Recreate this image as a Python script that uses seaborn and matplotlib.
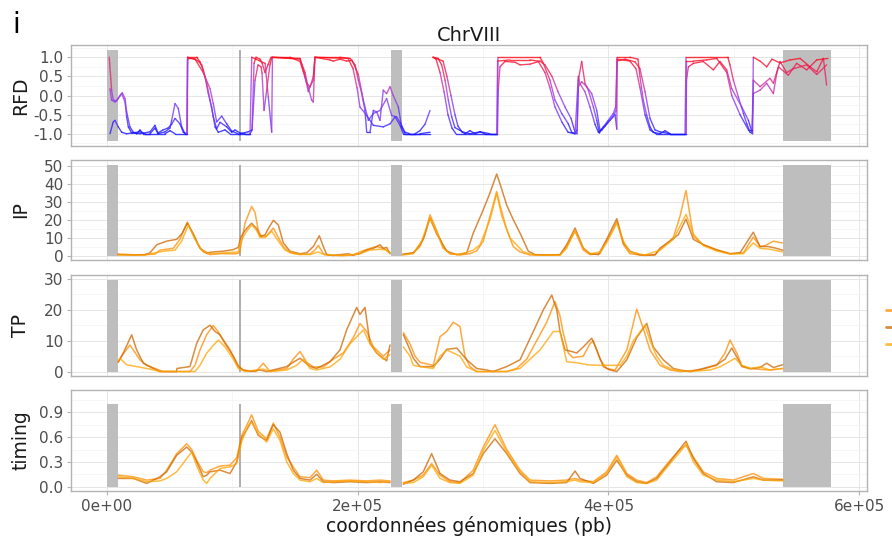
import numpy as np
import pandas as pd
import matplotlib
matplotlib.use("Agg")
import matplotlib.pyplot as plt
import seaborn as sns
from matplotlib.collections import LineCollection
from matplotlib.colors import LinearSegmentedColormap, Normalize
from matplotlib.lines import Line2D

NA = np.nan

# ---------------- text / axes content ----------------
chrom_title = "ChrVIII"
panel_letter = "i"
x_label = "coordonnées génomiques (pb)"
x_ticks = [0, 200000, 400000, 600000]
x_tick_labels = ["0e+00", "2e+05", "4e+05", "6e+05"]
x_minor = [100000, 300000, 500000]

# masked regions and centromere (kb)
mask_start_kb = [0.0, 226.6, 539.3]
mask_end_kb = [8.8, 235.3, 577.6]
centromere_kb = 106.1

samples = ["rep1", "rep2", "rep3"]
sample_colors = ["#FF8C00", "#CD6600", "#FFA500"]

# ---------------- RFD (three tracks, kb / value) ----------------
rfd_a_kb = [1.8, 3.7, 5.0, 7.7, 10.4, 12.2, 14.4, 15.7, 18.3, 21.0, 23.7, 26.3, 29.0, 34.3, 38.3, 40.7, 46.3, 50.3, 51.6, 54.3, 56.9, 59.6, 62.2, 64.1, 64.3, 71.6, 74.2, 76.8, 79.6, 82.2, 84.8, 87.5, 90.2, 95.5, 99.5, 102.1, 106.1, 110.1, 114.1, 115.7, 117.3, 118.9, 122.1, 123.7, 126.1, 128.4, 130.8, 146.0, 154.0, 156.6, 159.3, 162.0, 164.6, 165.9, 185.9, 193.9, 197.9, 200.5, 203.2, 205.8, 207.2, 209.8, 212.5, 215.2, 217.8, 220.4, 223.1, 225.8, 228.4, 232.4, 235.1, 237.7, 245.7, 249.7, 253.7, 257.7, NA, 260.1, 264.1, 267.0, 269.7, 272.3, 275.0, 277.6, 281.6, 285.6, 289.6, 293.6, 297.6, 301.6, 311.1, 311.9, 345.5, 348.1, 353.4, 357.4, 362.8, 368.0, 370.7, 373.4, 375.0, 376.0, 378.7, 381.3, 384.0, 388.0, 390.7, 392.8, 395.9, 399.9, 403.9, 405.8, 406.9, 417.2, 423.6, 425.2, 427.8, 430.6, 433.2, 435.8, 441.2, 445.2, 449.2, 461.1, 461.9, 495.3, 497.0, 499.7, 503.7, 507.7, 510.4, 513.0, 515.1, 515.6, 521.0, 526.3, 530.5, 536.9, 544.9, 552.9, 560.9, 566.2, 571.5, 574.1]
rfd_a = [1.0, 0.14, -0.12, -0.14, 0.0, 0.07, -0.08, -0.43, -0.82, -0.96, -1.0, -0.9, -1.0, -1.0, -0.85, -1.0, -0.95, -0.85, -0.65, -0.21, -0.34, -0.82, -1.0, -1.0, 1.0, 1.0, 0.88, 0.66, 0.31, -0.12, -0.56, -0.87, -0.7, -0.82, -0.96, -0.9, -0.98, -1.0, -1.0, -0.9, 0.84, 1.0, 0.95, 0.85, 0.6, 0.8, 1.0, 1.0, 0.89, 0.62, 0.32, 0.23, 0.4, 1.0, 1.0, 0.97, 0.8, 0.4, 0.05, -0.39, -0.96, -0.96, -0.39, -0.43, -0.65, 0.14, 0.05, 0.23, 0.0, -0.3, -0.82, -1.0, -1.0, -0.92, -0.75, -0.39, NA, 1.0, 0.97, 0.8, 0.4, -0.12, -0.56, -0.84, -0.91, -1.0, -0.92, -1.0, -0.95, -1.0, -1.0, 1.0, 1.0, 0.84, 0.4, -0.12, -0.47, -0.74, -0.96, -1.0, -0.9, 0.4, 0.89, 0.32, 0.14, -0.3, -0.65, -0.98, -0.82, -0.65, -0.47, -0.3, 1.0, 1.0, 0.95, 0.49, -0.12, -0.52, -0.82, -0.96, -1.0, -0.92, -1.0, -1.0, 1.0, 1.0, 0.8, 0.4, -0.04, -0.47, -0.74, -0.96, -1.0, 1.0, 0.9, 0.75, 0.95, 0.85, 0.93, 0.97, 0.75, 0.62, 0.97, 0.27]

rfd_b_kb = [2.4, 3.7, 6.4, 9.0, 11.7, 14.4, 15.7, 17.0, 19.7, 26.3, 34.3, 38.3, 40.7, 44.7, 48.7, 51.6, 54.3, 58.2, 60.9, 63.8, 64.3, 66.2, 70.2, 72.6, 75.6, 78.2, 80.8, 83.5, 86.2, 88.8, 94.1, 98.1, 106.1, 112.5, 115.7, 118.1, 120.5, 122.9, 123.7, 125.3, 127.4, 130.0, 131.6, 154.0, 158.0, 160.6, 163.3, 164.6, 165.9, 177.9, 180.5, 185.9, 191.2, 195.5, 200.5, 204.5, 208.5, 212.5, 217.8, 223.1, 227.1, 231.1, 233.8, 237.7, 241.7, 257.7, NA, 260.1, 268.1, 271.2, 274.4, 277.6, 280.0, 283.2, 289.6, 297.6, 305.6, 311.5, 312.2, 313.5, 317.5, 325.5, 329.5, 337.5, 345.5, 349.4, 355.0, 359.8, 365.4, 370.2, 373.4, 375.0, 376.1, 378.7, 382.7, 386.7, 390.7, 393.3, 397.3, 401.3, 405.3, 406.7, 407.0, 413.3, 421.2, 425.2, 429.2, 433.2, 437.2, 441.2, 449.2, 461.9, 462.3, 463.8, 467.8, 475.7, 483.7, 489.0, 494.4, 498.4, 506.4, 511.7, 514.6, 515.6, 521.0, 526.3, 531.6, 534.3, 536.9, 542.2, 547.5, 558.2, 566.2, 574.1]
rfd_b = [0.18, -0.12, -0.17, -0.08, 0.05, -0.17, -0.56, -0.82, -0.98, -1.0, -0.95, -0.78, -0.98, -0.9, -0.85, -0.75, -0.6, -0.74, -0.96, -1.0, 0.95, 0.97, 0.95, 0.9, 0.8, 0.49, 0.05, -0.3, -0.82, -0.96, -0.9, -1.0, -1.0, -0.95, -0.9, 0.4, 0.8, 0.75, 0.58, -0.39, 0.14, 0.8, 1.0, 0.95, 0.6, 0.2, -0.12, -0.17, 1.0, 0.93, 0.9, 0.95, 0.9, 0.92, 0.55, -0.12, -0.65, -0.47, -0.39, -0.08, -0.52, -0.56, -0.7, -0.96, -1.0, -1.0, NA, 1.0, 0.9, 0.5, 0.0, -0.5, -0.8, -0.95, -1.0, -0.95, -1.0, -1.0, 0.18, 0.75, 0.89, 0.87, 0.8, 0.82, 0.9, 0.8, 0.5, 0.1, -0.3, -0.6, -0.96, -1.0, 0.23, 0.36, 0.23, 0.05, -0.39, -0.91, -0.8, -0.65, -0.5, -0.88, 0.9, 0.95, 0.88, 0.7, 0.1, -0.6, -0.9, -0.95, -1.0, -1.0, 0.4, 0.75, 0.84, 0.89, 0.67, 0.89, 0.67, 0.18, -0.3, -0.65, -0.96, 0.05, 0.14, 0.32, 0.05, 0.58, 0.89, 0.6, 0.7, 0.8, 0.55, 0.8]

rfd_c_kb = [2.4, 5.0, 6.4, 9.0, 11.7, 15.7, 26.3, 30.3, 46.3, 50.3, 54.3, 63.8, 64.3, 70.2, 76.8, 82.2, 84.8, 87.5, 91.5, 95.5, 99.5, 104.5, 114.1, 115.5, 118.9, 122.1, 126.1, 128.7, 131.4, 132.0, 154.0, 158.0, 160.6, 162.0, 164.6, 165.9, 192.3, 196.3, 199.5, 201.8, 207.2, 212.5, 220.4, 225.8, 229.8, 233.8, 236.4, 249.7, 257.7, NA, 260.1, 262.5, 265.7, 268.9, 272.0, 275.2, 278.4, 311.1, 311.6, 321.5, 337.5, 343.9, 349.4, 353.4, 357.4, 363.0, 367.8, 373.4, 376.0, 377.4, 381.3, 385.3, 389.3, 392.0, 394.9, 399.7, 403.7, 406.1, 406.9, 417.2, 422.0, 425.2, 429.2, 433.2, 438.0, 461.9, 462.3, 467.8, 478.4, 486.4, 494.4, 498.4, 505.0, 511.7, 514.6, 515.6, 521.0, 528.9, 531.6, 535.6, 543.5, 550.2, 558.2, 566.2, 575.2]
rfd_c = [-1.0, -0.69, -0.65, -0.82, -0.96, -1.0, -0.95, -1.0, -1.0, -0.92, -1.0, -1.0, 1.0, 0.95, 0.6, 0.18, -0.21, -0.69, -0.54, -0.74, -0.93, -1.0, -1.0, 1.0, 0.95, 0.9, 0.84, -0.04, -0.96, 1.0, 0.97, 0.5, 0.1, 0.23, 0.49, 1.0, 0.97, 0.7, 0.2, -0.3, -0.52, -0.78, -0.82, -0.74, -0.56, -0.78, -1.0, -1.0, -0.96, NA, 1.0, 0.95, 0.6, 0.1, -0.5, -0.85, -1.0, -1.0, 0.9, 0.93, 0.93, 0.9, 0.6, 0.2, -0.3, -0.7, -0.96, -1.0, 0.5, 0.3, 0.1, -0.3, -0.75, -0.96, -0.9, -0.7, -0.55, -0.4, 0.95, 0.9, 0.7, 0.2, -0.5, -0.9, -1.0, -1.0, 0.9, 0.9, 0.93, 0.97, 0.6, 0.0, -0.5, -0.9, -0.9, 0.4, 0.23, 0.45, 0.32, 0.75, 0.53, 0.84, 0.67, 0.93, 0.97]

# ---------------- IP ----------------
ip_1_kb = [8.8, 26.3, 38.3, 42.3, 52.9, 58.2, 64.1, 68.6, 72.6, 76.8, 82.2, 90.2, 103.5, 105.7, 106.7, 110.1, 115.4, 118.1, 120.7, 123.4, 127.4, 132.7, 136.7, 140.7, 146.0, 154.0, 162.0, 165.9, 168.6, 172.6, 177.9, 185.9, 196.3, 201.8, 209.8, 215.2, 220.4, 225.8, NA, 235.9, 244.4, 249.7, 253.7, 257.7, 263.0, 268.1, 273.6, 281.6, 289.6, 294.9, 300.2, 305.6, 310.9, 313.5, 318.9, 324.1, 329.5, 337.5, 361.4, 366.7, 373.4, 380.0, 385.3, 393.3, 398.6, 406.9, 412.0, 417.2, 429.2, 437.2, 443.8, 451.8, 457.2, 461.9, 467.8, 475.7, 486.4, 497.0, 507.7, 515.6, 521.0, 525.0, 531.6, 539.0]
ip_1 = [0.8, 0.3, 0.8, 3, 4, 9, 18.6, 12, 6, 2, 0.5, 1, 1, 1.5, 5, 18, 27.3, 24, 14, 10.5, 11, 15.3, 10, 5, 1.5, 0.5, 0.8, 3, 5.7, 1, 0.2, 0, 0.2, 2, 4, 5, 4, 1.5, NA, 0.8, 1.5, 5, 12, 22.7, 14, 5, 1, 0.3, 1, 2.5, 8, 22, 35.6, 28, 14.4, 5, 2, 0.3, 0.3, 5, 13.5, 3, 0.5, 1, 8, 19, 6, 1, 0, 0.5, 5, 10, 22, 36.2, 10.7, 6, 3.3, 1, 1.5, 10.3, 5, 5.5, 8, 7]
ip_2_kb = [8.8, 18.3, 30.3, 34.3, 39.7, 47.6, 55.6, 59.6, 64.1, 68.9, 74.2, 79.6, 84.8, 92.8, 100.8, 104.7, 106.7, 110.1, 115.4, 119.4, 122.1, 126.1, 128.7, 132.7, 136.7, 140.7, 146.0, 154.0, 159.3, 164.6, 169.4, 172.6, 175.3, 180.3, 192.3, 196.3, 201.8, 207.2, 212.5, 217.8, 220.4, 223.1, 225.8, NA, 235.9, 244.4, 249.7, 252.3, 257.7, 263.0, 265.7, 271.0, 279.0, 287.0, 292.2, 300.2, 305.6, 310.9, 313.5, 318.9, 324.1, 329.5, 336.1, 341.5, 353.4, 361.4, 366.7, 373.4, 380.0, 385.3, 392.0, 398.6, 406.7, 412.0, 417.2, 425.2, 437.2, 441.2, 449.2, 455.8, 461.9, 467.8, 475.7, 486.4, 497.0, 505.0, 515.6, 521.0, 527.6, 532.9, 539.0]
ip_2 = [0.5, 0.3, 0.5, 1.5, 6, 8, 9, 12, 18, 12, 4, 1.5, 2, 2.4, 3.3, 4.5, 10, 14, 18, 15, 10.7, 11.5, 15, 19.6, 17, 7, 2.4, 1, 1.5, 5, 11, 5, 0.5, 0, 1, 0.2, 1, 3, 4, 6, 4, 4.5, 1, NA, 0.5, 1.5, 6, 9, 20.8, 12, 9, 2.4, 0.5, 1.5, 12.5, 25.5, 35, 45.4, 40, 28, 20, 12.5, 2.4, 0.5, 0.3, 0.5, 6, 15.3, 4.2, 1, 0.5, 9, 20.5, 7, 2.4, 0.3, 0.3, 4.2, 8, 11.6, 20.3, 9, 6, 3, 1, 1.5, 13, 5, 5, 4.2, 3]
ip_3_kb = [8.8, 30.3, 44.9, 54.3, 59.6, 64.9, 70.2, 75.6, 82.2, 94.1, 104.7, 106.7, 110.9, 115.4, 119.4, 122.1, 126.1, 131.4, 136.7, 142.0, 150.0, 162.0, 168.6, 173.9, 189.9, 201.8, 209.8, 217.8, 223.1, 225.8, NA, 235.9, 244.4, 251.0, 257.7, 263.0, 268.1, 273.6, 281.6, 292.2, 297.6, 305.6, 310.9, 314.9, 321.5, 332.1, 341.5, 361.4, 366.7, 373.4, 380.0, 385.3, 393.3, 398.6, 406.7, 412.0, 417.2, 429.2, 441.2, 451.8, 461.9, 467.8, 475.7, 486.4, 497.0, 507.7, 515.6, 521.0, 528.9, 539.0]
ip_3 = [0.3, 0.3, 2.4, 3, 8, 17, 9, 3, 1, 1.5, 2, 8, 13, 17, 14, 10, 10, 13.5, 8, 3, 1, 0.5, 2, 0.3, 0, 1, 3, 3.5, 3, 1, NA, 0.3, 1, 8, 21, 13, 4, 1, 0.5, 3, 6, 20, 34.7, 22, 9.8, 2, 0.2, 0.2, 4, 14, 4, 1, 2, 7, 18, 8, 2, 0.3, 3, 9, 23, 12, 5.5, 2.5, 0.8, 1, 7, 4, 3.5, 2]

# ---------------- TP ----------------
tp_1_kb = [9.0, 11.7, 18.3, 26.3, 31.7, 38.3, 44.7, 66.2, 70.2, 74.2, 79.6, 84.8, 88.6, 94.1, 100.8, 104.7, 108.5, 118.9, 124.7, 130.0, 143.4, 148.6, 154.0, 159.3, 164.6, 172.6, 180.5, 188.5, 196.5, 201.8, 207.2, 212.5, 220.4, 225.8, NA, 236.4, 241.7, 245.7, 249.7, 260.3, 265.7, 271.0, 276.3, 281.6, 285.6, 289.6, 294.9, 318.9, 326.8, 334.8, 342.8, 350.8, 357.4, 361.4, 364.0, 368.0, 371.8, 380.0, 385.3, 388.0, 393.3, 398.6, 405.3, 414.7, 422.6, 427.8, 433.2, 441.2, 449.2, 457.2, 473.1, 486.4, 493.0, 497.0, 502.4, 506.4, 513.0, 521.0, 528.9, 539.0]
tp_1 = [3.2, 5, 8.6, 3.8, 2, 1, 0, 0, 2, 7, 12, 14.9, 13, 9, 5, 2, 0.5, 0, 2.7, 0, 1, 4, 6.5, 3, 1.5, 1.5, 4, 6, 11, 15.6, 13, 8, 5, 7, NA, 12.6, 9, 5, 3, 2, 11.3, 13, 16, 14.6, 4.9, 1.6, 0, 0, 1, 4, 10, 16, 22.7, 18, 12.5, 6, 4.5, 5, 9, 10, 4, 1, 0.5, 7, 20.2, 14, 7, 2, 0.5, 0, 0.5, 2, 6, 10.2, 6, 2, 1, 0.7, 0.5, 1]
tp_2_kb = [9.0, 13.0, 19.7, 23.7, 29.0, 36.9, 42.3, 55.6, 55.8, 66.2, 71.6, 76.8, 82.2, 86.2, 90.2, 98.1, 104.7, 108.5, 114.1, 122.1, 127.4, 143.4, 148.6, 154.0, 162.0, 167.3, 177.9, 185.9, 191.2, 199.2, 201.8, 205.8, 209.8, 215.2, 220.4, 223.1, 225.8, NA, 236.4, 241.7, 244.4, 249.7, 260.3, 265.7, 271.0, 279.0, 287.0, 294.9, 302.9, 308.0, 318.9, 329.5, 340.1, 348.1, 354.8, 358.8, 361.4, 365.4, 370.7, 374.7, 380.0, 386.7, 390.7, 395.9, 401.3, 406.7, 414.7, 422.6, 430.6, 435.8, 443.8, 451.8, 457.2, 465.1, 475.7, 486.4, 493.0, 498.4, 503.4, 506.4, 513.0, 521.0, 526.3, 531.6, 539.0]
tp_2 = [3, 6, 11.9, 7, 2.7, 1, 0, 0, 1, 1.6, 9.2, 13.5, 15, 13, 11.9, 7, 1.6, 0.5, 0, 0.5, 0, 1.6, 3, 4.3, 1.6, 1, 3.2, 7, 13.5, 20.8, 18.5, 20.8, 9.2, 6, 4.3, 3.5, 8.6, NA, 12, 7, 4.3, 1.6, 1.6, 4, 7.2, 7.6, 3.8, 1, 0.5, 0, 1.6, 3.8, 13, 20, 24.8, 20, 13, 7, 6.5, 6, 8, 10.8, 7, 1.6, 0.5, 0, 3.8, 11, 15.6, 8, 3.8, 1, 0.5, 0, 1, 2.2, 4, 7.6, 4, 1.6, 0.9, 1.3, 2.7, 1.3, 2.2]
tp_3_kb = [9.0, 10.4, 15.7, 34.3, 42.3, 70.2, 74.2, 79.6, 84.8, 88.8, 94.1, 100.8, 104.7, 110.1, 124.5, 130.0, 143.4, 151.3, 156.6, 162.0, 167.3, 177.9, 185.9, 193.9, 204.5, 209.8, 215.2, 220.4, 225.8, NA, 236.4, 241.7, 244.4, 249.7, 260.3, 265.7, 271.0, 276.3, 281.6, 287.0, 294.9, 318.9, 329.5, 337.5, 345.5, 350.8, 356.1, 361.4, 366.7, 377.4, 382.7, 393.3, 409.3, 414.7, 419.9, 429.2, 433.2, 438.5, 443.8, 451.8, 465.1, 481.1, 489.0, 495.7, 501.0, 506.4, 513.0, 521.0, 528.9, 539.0]
tp_3 = [3.5, 4.3, 2.2, 0.8, 0, 0, 2, 6, 8.5, 10.2, 8, 4, 1, 0, 0.8, 0, 0.5, 2, 4, 1, 0.5, 1.5, 4, 9, 13.5, 9, 6, 4, 5.5, NA, 8, 5, 2, 1.6, 1, 5, 7, 6, 5, 1.5, 0, 0, 1, 4, 7, 10, 13, 13, 3.2, 2.7, 2.2, 2, 2, 5, 10, 15, 10, 5, 2, 0.5, 0, 0.5, 1.5, 3, 4.3, 2, 1, 1.5, 0.5, 1]

# ---------------- timing (shared positions) ----------------
tm_kb = [9.0, 21.0, 31.7, 42.3, 47.6, 55.6, 63.6, 67.6, 71.6, 76.8, 79.6, 82.2, 90.2, 98.1, 103.5, 107.5, 112.7, 115.4, 120.7, 127.4, 132.7, 138.0, 143.4, 148.6, 154.0, 162.0, 167.3, 172.6, 180.5, 193.9, 207.2, 217.8, 225.8, NA, 236.4, 244.4, 252.3, 259.0, 265.7, 273.6, 281.6, 292.2, 300.2, 309.5, 318.9, 329.5, 337.5, 353.4, 366.7, 373.4, 377.4, 388.0, 398.6, 406.7, 414.7, 422.6, 430.6, 438.5, 449.2, 457.2, 461.9, 467.8, 475.7, 486.4, 499.7, 515.6, 523.7, 539.0]
tm_1 = [0.14, 0.12, 0.08, 0.1, 0.2, 0.4, 0.52, 0.45, 0.32, 0.18, 0.17, 0.2, 0.25, 0.26, 0.35, 0.62, 0.78, 0.87, 0.67, 0.58, 0.77, 0.6, 0.36, 0.24, 0.12, 0.11, 0.2, 0.08, 0.07, 0.08, 0.07, 0.08, 0.07, NA, 0.05, 0.08, 0.14, 0.28, 0.14, 0.06, 0.05, 0.2, 0.48, 0.75, 0.45, 0.2, 0.08, 0.07, 0.08, 0.1, 0.08, 0.06, 0.18, 0.38, 0.16, 0.08, 0.05, 0.12, 0.32, 0.45, 0.5, 0.36, 0.18, 0.1, 0.08, 0.16, 0.1, 0.09]
tm_2 = [0.1, 0.1, 0.04, 0.12, 0.18, 0.38, 0.48, 0.42, 0.3, 0.12, 0.14, 0.18, 0.2, 0.16, 0.3, 0.59, 0.72, 0.8, 0.62, 0.56, 0.75, 0.66, 0.4, 0.2, 0.1, 0.08, 0.15, 0.06, 0.05, 0.06, 0.05, 0.06, 0.05, NA, 0.03, 0.08, 0.18, 0.4, 0.16, 0.08, 0.06, 0.16, 0.4, 0.58, 0.4, 0.16, 0.05, 0.04, 0.05, 0.19, 0.1, 0.04, 0.14, 0.32, 0.14, 0.06, 0.04, 0.1, 0.3, 0.46, 0.55, 0.34, 0.16, 0.06, 0.05, 0.12, 0.08, 0.08]
tm_3 = [0.12, 0.1, 0.06, 0.07, 0.1, 0.18, 0.34, 0.42, 0.25, 0.08, 0.04, 0.1, 0.22, 0.24, 0.28, 0.55, 0.74, 0.78, 0.64, 0.54, 0.7, 0.56, 0.3, 0.16, 0.08, 0.06, 0.1, 0.05, 0.06, 0.07, 0.06, 0.05, 0.06, NA, 0.04, 0.05, 0.12, 0.26, 0.1, 0.05, 0.04, 0.14, 0.44, 0.68, 0.42, 0.18, 0.06, 0.05, 0.06, 0.08, 0.06, 0.05, 0.16, 0.36, 0.12, 0.05, 0.04, 0.08, 0.28, 0.42, 0.52, 0.3, 0.14, 0.08, 0.06, 0.1, 0.08, 0.07]

# ---------------- panel definitions ----------------
panel_names = ["RFD", "IP", "TP", "timing"]
panel_ylim = [(-1.32, 1.32), (-2.5, 53.2), (-1.45, 31.3), (-0.052, 1.17)]
panel_rect = [(-1.2, 1.2), (0, 50.4), (0, 29.6), (0, 1.0)]
panel_major = [[-1, -0.5, 0, 0.5, 1], [0, 10, 20, 30, 40, 50], [0, 10, 20, 30], [0, 0.3, 0.6, 0.9]]
panel_minor = [[-1.25, -0.75, -0.25, 0.25, 0.75, 1.25], [5, 15, 25, 35, 45], [5, 15, 25], [0.15, 0.45, 0.75, 1.05]]
panel_fmt = ["{:.1f}", "{:.0f}", "{:.0f}", "{:.1f}"]
# panel pixel boxes (top, bottom) in an 892 x 538 canvas
panel_px = [(45, 146), (160, 260), (275, 376), (390, 491)]

sns.set_theme(style="whitegrid")
plt.rcParams["font.family"] = ["DejaVu Sans"]
plt.rcParams["axes.unicode_minus"] = False

W, H = 892, 538
fig = plt.figure(figsize=(W / 100, H / 100), dpi=100)
left_px, right_px = 71, 867
axes = []
for (t, b) in panel_px:
    axes.append(fig.add_axes([left_px / W, 1 - b / H, (right_px - left_px) / W, (b - t) / H]))


def long_frame(series):
    rows = []
    for name, xs, ys in series:
        assert len(xs) == len(ys), (name, len(xs), len(ys))
        seg = 0
        for x, y in zip(xs, ys):
            if np.isnan(x):
                seg += 1
                continue
            rows.append((name, f"{name}-{seg}", x * 1000.0, y))
    return pd.DataFrame(rows, columns=["sample", "seg", "pos", "value"])


palette = dict(zip(samples, sample_colors))
track_data = {
    "IP": [(samples[0], ip_1_kb, ip_1), (samples[1], ip_2_kb, ip_2), (samples[2], ip_3_kb, ip_3)],
    "TP": [(samples[0], tp_1_kb, tp_1), (samples[1], tp_2_kb, tp_2), (samples[2], tp_3_kb, tp_3)],
    "timing": [(samples[0], tm_kb, tm_1), (samples[1], tm_kb, tm_2), (samples[2], tm_kb, tm_3)],
}

cmap = LinearSegmentedColormap.from_list(
    "rfd", ["#1414FF", "#7038FF", "#A23CE0", "#E02C80", "#FF0A14"])
norm = Normalize(-1, 1)

for i, ax in enumerate(axes):
    name = panel_names[i]
    lo, hi = panel_rect[i]
    for s, e in zip(mask_start_kb, mask_end_kb):
        ax.fill_between([s * 1000, e * 1000], lo, hi, color="#BEBEBE", lw=0, zorder=1)
    ax.vlines(centromere_kb * 1000, lo, hi, color="#A8A8A8", lw=1.3, zorder=1)

    if name == "RFD":
        segs, vals = [], []
        for xs, ys in [(rfd_a_kb, rfd_a), (rfd_b_kb, rfd_b), (rfd_c_kb, rfd_c)]:
            assert len(xs) == len(ys), (len(xs), len(ys))
            for k in range(len(xs) - 1):
                if np.isnan(xs[k]) or np.isnan(xs[k + 1]):
                    continue
                segs.append([(xs[k] * 1000, ys[k]), (xs[k + 1] * 1000, ys[k + 1])])
                vals.append((ys[k] + ys[k + 1]) / 2)
        lc = LineCollection(segs, colors=cmap(norm(np.array(vals))), linewidths=1.0,
                            alpha=0.8, zorder=3, capstyle="round", joinstyle="round")
        ax.add_collection(lc)
    else:
        df = long_frame(track_data[name])
        sns.lineplot(data=df, x="pos", y="value", hue="sample", hue_order=samples,
                     palette=palette, units="seg", estimator=None, sort=False,
                     lw=1.1, alpha=0.75, legend=False, ax=ax, zorder=3)

    ax.set_xlim(-28.7e3, 606.3e3)
    ax.set_ylim(*panel_ylim[i])
    ax.set_facecolor("white")
    ax.set_axisbelow(True)
    for sp in ax.spines.values():
        sp.set_visible(True)
        sp.set_color("#B3B3B3")
        sp.set_linewidth(1.0)
    ax.set_xticks(x_ticks)
    ax.set_xticks(x_minor, minor=True)
    ax.set_yticks(panel_major[i])
    ax.set_yticks(panel_minor[i], minor=True)
    ax.set_yticklabels([panel_fmt[i].format(v) for v in panel_major[i]])
    ax.grid(which="major", color="#E6E6E6", lw=0.7)
    ax.grid(which="minor", color="#F3F3F3", lw=0.5)
    ax.tick_params(axis="y", which="major", left=True, length=3, width=0.8, color="#B3B3B3",
                   labelsize=11, labelcolor="#4D4D4D", pad=2.5)
    ax.tick_params(axis="both", which="minor", length=0)
    ax.set_ylabel(name, fontsize=13.5, color="#1A1A1A")
    ax.yaxis.set_label_coords(-0.051, 0.5)
    if i < 3:
        ax.tick_params(axis="x", which="major", bottom=False, labelbottom=False)
        ax.set_xlabel("")
    else:
        ax.set_xticklabels(x_tick_labels)
        ax.tick_params(axis="x", which="major", bottom=True, length=3, width=0.8, color="#B3B3B3",
                       labelsize=11, labelcolor="#4D4D4D", pad=2.5)
        ax.set_xlabel(x_label, fontsize=13.5, color="#1A1A1A", labelpad=2)

axes[0].set_title(chrom_title, fontsize=14, color="#1A1A1A", pad=2)
fig.text(0.014, 1 - 33 / H, panel_letter, fontsize=20, color="black", va="baseline")

# legend: only the keys reach into the canvas at the right edge
handles = [Line2D([0], [0], color=c, lw=2, alpha=0.75) for c in sample_colors]
fig.legend(handles, [" ", " ", " "], loc="center left", bbox_to_anchor=(886 / W, 1 - 328 / H),
           frameon=False, handlelength=1.6, handleheight=1.0, fontsize=8, labelspacing=0.55,
           borderpad=0, borderaxespad=0)

fig.savefig("out.png", dpi=100)
